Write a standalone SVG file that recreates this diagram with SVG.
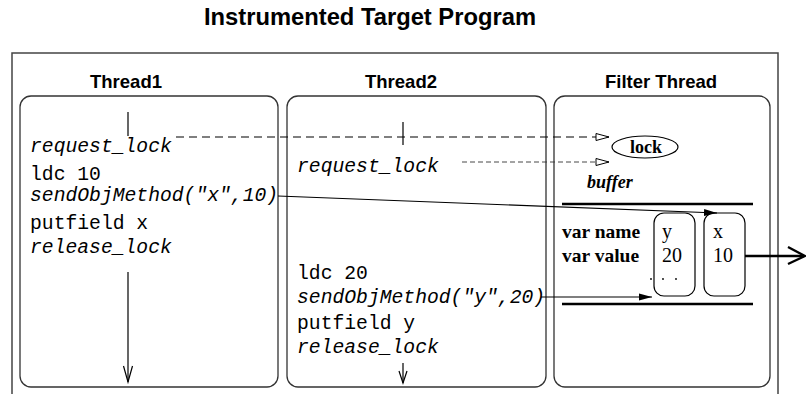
<svg xmlns="http://www.w3.org/2000/svg" width="806" height="394" viewBox="0 0 806 394">
<defs>
<marker id="openTri" markerWidth="16" markerHeight="10" refX="14" refY="5" orient="auto" markerUnits="userSpaceOnUse">
<path d="M1,1.5 L14,5 L1,8.5 Z" fill="#fff" stroke="#000" stroke-width="1"/>
</marker>
<marker id="solidTri" markerWidth="16" markerHeight="10" refX="13" refY="5" orient="auto" markerUnits="userSpaceOnUse">
<path d="M0,1.5 L13,5 L0,8.5 Z" fill="#000"/>
</marker>
</defs>
<style>
.sans{font-family:"Liberation Sans",Arial,sans-serif;font-weight:bold;fill:#000}
.code{font-family:"Liberation Mono","Courier New",monospace;font-size:19.7px;fill:#000}
.it{font-style:italic}
.serif{font-family:"Liberation Serif","Times New Roman",serif;fill:#000}
.b{font-weight:bold}
.panel{fill:#fff;stroke:#333;stroke-width:1.3}
.frame{fill:none;stroke:#444;stroke-width:1.5}
.ln{fill:none;stroke:#000;stroke-width:1.2}
.thick{fill:none;stroke:#000;stroke-width:2.4}
</style>
<rect width="806" height="394" fill="#fff"/>
<text class="sans" x="204" y="25" font-size="23" textLength="332" lengthAdjust="spacingAndGlyphs">Instrumented Target Program</text>
<path class="frame" d="M12,394 V53 H778 V394"/>
<g id="thread1">
<text class="sans" x="126" y="88" font-size="18.5" text-anchor="middle">Thread1</text>
<rect class="panel" x="20" y="96" width="258" height="291" rx="11"/>
<text class="code it" x="30" y="152">request_lock</text>
<text class="code" x="30" y="180">ldc 10</text>
<text class="code it" x="30" y="201">sendObjMethod("x",10)</text>
<text class="code" x="30" y="229">putfield x</text>
<text class="code it" x="30" y="253">release_lock</text>
</g>
<g id="thread2">
<text class="sans" x="401" y="88" font-size="18.5" text-anchor="middle">Thread2</text>
<rect class="panel" x="287" y="96" width="259" height="291" rx="11"/>
<text class="code it" x="297" y="172">request_lock</text>
<text class="code" x="297" y="279">ldc 20</text>
<text class="code it" x="297" y="303">sendObjMethod("y",20)</text>
<text class="code" x="297" y="329">putfield y</text>
<text class="code it" x="297" y="353">release_lock</text>
</g>
<g id="filter">
<text class="sans" x="661" y="88" font-size="18.5" text-anchor="middle">Filter Thread</text>
<rect class="panel" x="554" y="96" width="216" height="291" rx="11"/>
</g>
<g id="lock">
<ellipse cx="645" cy="147" rx="33" ry="11" fill="#fff" stroke="#000" stroke-width="1.2"/>
<text class="serif b" x="646" y="153" font-size="18" text-anchor="middle">lock</text>
</g>
<g id="buffer">
<text class="serif b it" x="587" y="188" font-size="18">buffer</text>
<line class="thick" x1="562" y1="204" x2="753" y2="204"/>
<line class="thick" x1="562" y1="304" x2="753" y2="304"/>
<text class="serif b" x="562" y="238" font-size="19.5">var name</text>
<text class="serif b" x="562" y="262" font-size="19.5">var value</text>
</g>
<g id="slot-y">
<rect x="654" y="213" width="41" height="83" rx="10" fill="#fff" stroke="#000" stroke-width="1.2"/>
<text class="serif" x="662" y="238" font-size="20">y</text>
<text class="serif" x="662" y="262" font-size="20">20</text>
<circle cx="651" cy="279" r="0.9" fill="#000"/>
<circle cx="663" cy="279" r="0.9" fill="#000"/>
<circle cx="676" cy="279" r="0.9" fill="#000"/>
</g>
<g id="slot-x">
<rect x="704" y="213" width="41" height="83" rx="10" fill="#fff" stroke="#000" stroke-width="1.2"/>
<text class="serif" x="713" y="238" font-size="20">x</text>
<text class="serif" x="713" y="262" font-size="20">10</text>
</g>
<g id="connectors">
<line class="ln" x1="128" y1="112" x2="128" y2="136"/>
<line class="ln" x1="403" y1="122" x2="403" y2="145"/>
<line class="ln" x1="176" y1="137" x2="609" y2="137" stroke-dasharray="8,5" marker-end="url(#openTri)"/>
<line x1="462" y1="162" x2="609" y2="162" stroke="#333" stroke-width="0.9" stroke-dasharray="5,3" marker-end="url(#openTri)"/>
<line class="ln" x1="278" y1="196" x2="717" y2="213" marker-end="url(#solidTri)"/>
<line class="ln" x1="541" y1="297" x2="652" y2="297" marker-end="url(#solidTri)"/>
<line class="ln" x1="128" y1="272" x2="128" y2="382"/>
<path class="ln" d="M123.5,366 L128,382 L132.5,366"/>
<line class="ln" x1="403" y1="363" x2="403" y2="383"/>
<path class="ln" d="M399,371 L403,383 L407,371"/>
<line class="thick" x1="745" y1="256" x2="804" y2="256"/>
<path class="thick" d="M788,247 L805,256 L788,264"/>
</g>
</svg>
